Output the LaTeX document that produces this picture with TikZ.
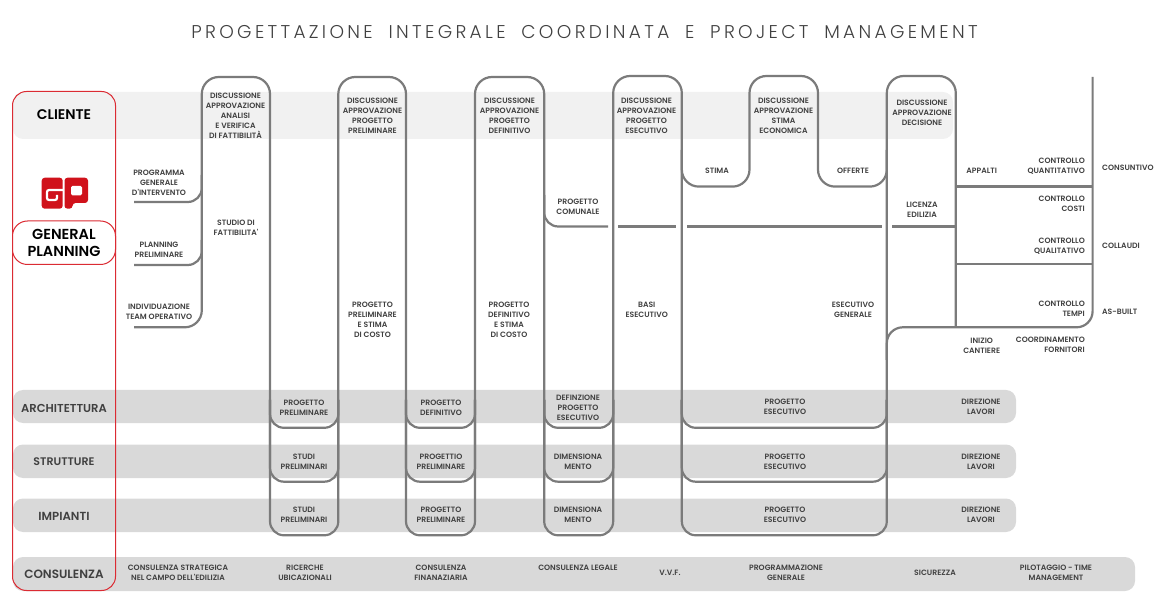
\documentclass[tikz,border=0pt]{standalone}
\usepackage{fontspec}
\setmainfont{Poppins}
\newfontfamily\labf{Poppins SemiBold}
\newfontfamily\headf{Poppins SemiBold}
\newfontfamily\titlef{Poppins Light}[LetterSpace=18]
\definecolor{ln}{HTML}{7B7B7B}
\definecolor{bandl}{HTML}{F1F1F1}
\definecolor{bandd}{HTML}{D9D9D9}
\definecolor{frame}{HTML}{DB2B33}
\definecolor{logo}{HTML}{D0121B}
\definecolor{txt}{HTML}{404040}
\tikzset{
  lnk/.style={draw=ln,line width=2.2pt,line join=round},
  band/.style={fill=bandd,rounded corners=10pt},
  frm/.style={draw=frame,line width=1pt,rounded corners=14pt},
  lab/.style={inner sep=0pt,align=center,text=txt,font=\labf\fontsize{7.7}{10}\selectfont},
  labr/.style={lab,align=right,anchor=east},
  labl/.style={lab,align=left,anchor=west},
  head/.style={inner sep=0pt,align=center,text=txt},
}
\newcommand{\hs}[1]{\headf\fontsize{#1}{17}\selectfont}
\begin{document}
\begin{tikzpicture}[x=1pt,y=-1pt]
\useasboundingbox (0,0) rectangle (1170,609);
% bands
\fill[band,fill=bandl] (13,92) rectangle (953,139);
\fill[band] (13,390) rectangle (1016,423);
\fill[band] (13,444.5) rectangle (1016,478);
\fill[band] (13,498.5) rectangle (1016,532);
\fill[band] (13,557) rectangle (1135,591);
% main serpentine
\draw[lnk,rounded corners=17pt] (134,327.3) -- (201.8,327.3) -- (201.8,77) -- (270,77) -- (270,400);
\draw[lnk,rounded corners=17pt] (338.3,400) -- (338.3,77) -- (406,77) -- (406,400);
\draw[lnk,rounded corners=17pt] (475,400) -- (475,77) -- (544.2,77) -- (544.2,400);
\draw[lnk,rounded corners=17pt] (613.2,400) -- (613.2,76) -- (681.8,76) -- (681.8,400);
\draw[lnk,rounded corners=17pt] (681.8,150) -- (681.8,186.6) -- (749.5,186.6) -- (749.5,76) -- (818,76) -- (818,186.6) -- (886.8,186.6) -- (886.8,150);
\draw[lnk,rounded corners=17pt] (886.8,400) -- (886.8,76) -- (955.8,76) -- (955.8,327.3);
% bottoms
\foreach \yb in {427.8,481.7,535.3}{
  \draw[lnk,rounded corners=14pt] (270,400) -- (270,\yb) -- (338.3,\yb) -- (338.3,400);
  \draw[lnk,rounded corners=14pt] (406,400) -- (406,\yb) -- (475,\yb) -- (475,400);
  \draw[lnk,rounded corners=14pt] (544.2,400) -- (544.2,\yb) -- (613.2,\yb) -- (613.2,400);
  \draw[lnk,rounded corners=14pt] (681.8,400) -- (681.8,\yb) -- (886.8,\yb) -- (886.8,400);
}
% branches
\draw[lnk,rounded corners=14pt] (134,202) -- (201.8,202) -- (201.8,175);
\draw[lnk,rounded corners=14pt] (134,265) -- (201.8,265) -- (201.8,240);
\draw[lnk,rounded corners=14pt] (544.2,195) -- (544.2,226.5) -- (608,226.5);
\draw[lnk] (618,226.5) -- (676,226.5);
\draw[lnk] (687,226.5) -- (882,226.5);
\draw[lnk] (892,226.5) -- (955.8,226.5);
\draw[lnk] (955.8,186.6) -- (1092.6,186.6);
\draw[lnk] (955.8,263.8) -- (1092.6,263.8);
\draw[lnk,rounded corners=16pt] (1092.6,77) -- (1092.6,327.3) -- (886.8,327.3) -- (886.8,360);
% red frames
\draw[frm] (12.5,91.5) rectangle (115.5,590.5);
\draw[frm,fill=white,rounded corners=15pt] (12.5,221) rectangle (115.5,264.5);
% logo
\fill[logo,rounded corners=3pt] (41.7,177.7) rectangle (62.7,208.7);
\fill[logo,rounded corners=3pt] (64.5,177.7) -- (88,177.7) -- (88,203) -- (72.5,203) -- (72.5,208.7) -- (64.5,208.7) -- cycle;
\fill[white,rounded corners=1.5pt] (71,186) rectangle (82,195.5);
\draw[white,line width=2.2pt,rounded corners=2pt] (63.5,190) -- (47,190) -- (47,200) -- (57,200) -- (57,195);
% title
\node[inner sep=0pt,text=txt,font=\titlef\fontsize{18.5}{20}\selectfont] (title) at (584.5,32.5) {PROGETTAZIONE\hspace{7.4pt} INTEGRALE\hspace{7.4pt} COORDINATA\hspace{7.4pt} E\hspace{7.4pt} PROJECT\hspace{7.4pt} MANAGEMENT};
% headings
\node[head,text=black,font=\hs{14}] (cliente) at (64,114.5) {CLIENTE};
\node[head,text=black,font=\hs{14.5}] (gp) at (64,243) {GENERAL\\PLANNING};
\node[head,font=\hs{11.5}] (arch) at (64,408) {ARCHITETTURA};
\node[head,font=\hs{11}] (strut) at (64,461.5) {STRUTTURE};
\node[head,font=\hs{11.7}] (imp) at (64,516.5) {IMPIANTI};
\node[head,font=\hs{12}] (cons) at (64,574.5) {CONSULENZA};
% top labels
\node[lab] (d1) at (235.5,115.7) {DISCUSSIONE\\APPROVAZIONE\\ANALISI\\E VERIFICA\\DI FATTIBILITÀ};
\node[lab] (d2) at (372.5,116) {DISCUSSIONE\\APPROVAZIONE\\PROGETTO\\PRELIMINARE};
\node[lab] (d3) at (509.5,116) {DISCUSSIONE\\APPROVAZIONE\\PROGETTO\\DEFINITIVO};
\node[lab] (d4) at (646.5,116) {DISCUSSIONE\\APPROVAZIONE\\PROGETTO\\ESECUTIVO};
\node[lab] (d5) at (783.5,116) {DISCUSSIONE\\APPROVAZIONE\\STIMA\\ECONOMICA};
\node[lab] (d6) at (922,113) {DISCUSSIONE\\APPROVAZIONE\\DECISIONE};
\node[lab] (a1) at (159,182.7) {PROGRAMMA\\GENERALE\\D'INTERVENTO};
\node[lab] (a2) at (159,250) {PLANNING\\PRELIMINARE};
\node[lab] (a3) at (159,311.7) {INDIVIDUAZIONE\\TEAM OPERATIVO};
\node[lab] (a4) at (236,228) {STUDIO DI\\FATTIBILITA'};
\node[lab] (b1) at (372.5,320.3) {PROGETTO\\PRELIMINARE\\E STIMA\\DI COSTO};
\node[lab] (b2) at (509,320.3) {PROGETTO\\DEFINITIVO\\E STIMA\\DI COSTO};
\node[lab] (b3) at (646.7,310.3) {BASI\\ESECUTIVO};
\node[lab] (b4) at (578,207) {PROGETTO\\COMUNALE};
\node[lab] (b5) at (717,170.7) {STIMA};
\node[lab] (b6) at (853,170.7) {OFFERTE};
\node[lab] (b7) at (922,209.7) {LICENZA\\EDILIZIA};
\node[lab] (b8) at (853,310) {ESECUTIVO\\GENERALE};
\node[lab] (c1) at (981.7,170.7) {APPALTI};
\node[lab] (c2) at (981.7,345.5) {INIZIO\\CANTIERE};
\node[labr] (e1) at (1085,166.7) {CONTROLLO\\QUANTITATIVO};
\node[labr] (e2) at (1085,204.3) {CONTROLLO\\COSTI};
\node[labr] (e3) at (1085,246.7) {CONTROLLO\\QUALITATIVO};
\node[labr] (e4) at (1085,308.5) {CONTROLLO\\TEMPI};
\node[labr] (e5) at (1085,345) {COORDINAMENTO\\FORNITORI};
\node[labl] (f1) at (1102,168.3) {CONSUNTIVO};
\node[labl] (f2) at (1102,246) {COLLAUDI};
\node[labl] (f3) at (1102,312.3) {AS-BUILT};
% lower labels
\node[lab] (g1) at (304,407.7) {PROGETTO\\PRELIMINARE};
\node[lab] (g2) at (304,461.7) {STUDI\\PRELIMINARI};
\node[lab] (g3) at (304,514.5) {STUDI\\PRELIMINARI};
\node[lab] (h1) at (441,407.7) {PROGETTO\\DEFINITIVO};
\node[lab] (h2) at (441,461.7) {PROGETTIO\\PRELIMINARE};
\node[lab] (h3) at (441,514.5) {PROGETTO\\PRELIMINARE};
\node[lab] (i1) at (578,407.8) {DEFINZIONE\\PROGETTO\\ESECUTIVO};
\node[lab] (i2) at (578,461.7) {DIMENSIONA\\MENTO};
\node[lab] (i3) at (578,514.5) {DIMENSIONA\\MENTO};
\node[lab] (j1) at (785,406.8) {PROGETTO\\ESECUTIVO};
\node[lab] (j2) at (785,461.7) {PROGETTO\\ESECUTIVO};
\node[lab] (j3) at (785,514.5) {PROGETTO\\ESECUTIVO};
\node[lab] (k1) at (981,406.8) {DIREZIONE\\LAVORI};
\node[lab] (k2) at (981,461.7) {DIREZIONE\\LAVORI};
\node[lab] (k3) at (981,514.5) {DIREZIONE\\LAVORI};
% consulenza row
\node[lab] (l1) at (178,572.7) {CONSULENZA STRATEGICA\\NEL CAMPO DELL'EDILIZIA};
\node[lab] (l2) at (305,572.7) {RICERCHE\\UBICAZIONALI};
\node[lab] (l3) at (441,572.7) {CONSULENZA\\FINANAZIARIA};
\node[lab] (l4) at (578,568) {CONSULENZA LEGALE};
\node[lab] (l5) at (670,573) {V.V.F.};
\node[lab] (l6) at (786,572.7) {PROGRAMMAZIONE\\GENERALE};
\node[lab] (l7) at (935,573) {SICUREZZA};
\node[lab] (l8) at (1056,572.7) {PILOTAGGIO - TIME\\MANAGEMENT};
\end{tikzpicture}
\end{document}
